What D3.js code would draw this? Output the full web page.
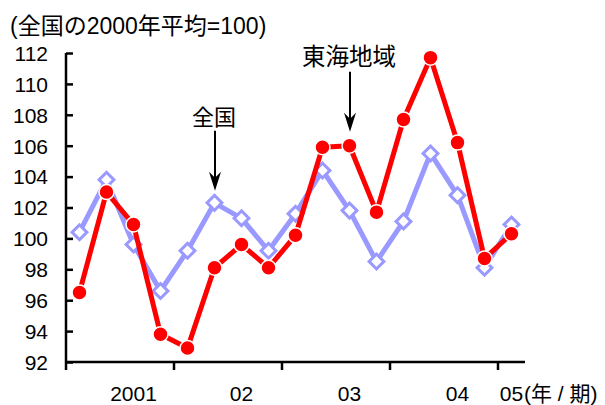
<!DOCTYPE html>
<html>
<head>
<meta charset="utf-8">
<script src="https://cdn.jsdelivr.net/npm/d3@7"></script>
<style>
  html, body { margin: 0; padding: 0; background: #fff; }
  svg { display: block; }
  text { font-family: "Liberation Sans", Arial, "Noto Sans CJK JP", sans-serif; fill: #000; }
</style>
</head>
<body>
<svg id="chart" width="605" height="405"></svg>
<script>
// Quarterly periods, 2001 Q1 – 2005 Q1
const quarters = ["01Q1","01Q2","01Q3","01Q4","02Q1","02Q2","02Q3","02Q4",
                  "03Q1","03Q2","03Q3","03Q4","04Q1","04Q2","04Q3","04Q4","05Q1"];
// Year labels shown under the third quarter of each year (and under 05Q1)
const quarterLabels = ["","","2001","","","","02","","","","03","","","","04","","05"];
// Year boundaries (ticks between Q4 and next Q1)
const yearStarts = ["02Q1","03Q1","04Q1","05Q1"];

// Index (national 2000 average = 100)
const tokaiValues    = [96.5,103.0,100.9,93.8,92.9,98.1,99.6,98.1,100.2,105.9,106.0,101.7,107.7,111.7,106.2,98.7,100.3];
const nationalValues = [100.4,103.8,99.6,96.6,99.2,102.3,101.3,99.2,101.6,104.4,101.8,98.5,101.1,105.5,102.8,98.1,100.9];

const yTicks = [92,94,96,98,100,102,104,106,108,110,112];

const svg = d3.select("#chart");
const plotLeft = 66, plotRight = 525, plotTop = 53, plotBottom = 362;

const x = d3.scaleBand().domain(quarters).range([plotLeft, plotRight]).padding(0);
const y = d3.scaleLinear().domain([92, 112]).range([plotBottom, plotTop]);
const cx = q => x(q) + x.bandwidth() / 2;

// Title
svg.append("text").attr("x", 10).attr("y", 34)
  .style("font-size", "23px").text("(全国の2000年平均=100)");

// Y axis (ticks point inward)
const yAxis = svg.append("g").attr("transform", `translate(${plotLeft},0)`)
  .call(d3.axisRight(y).tickValues(yTicks).tickSize(7).tickFormat(d3.format("d")));
yAxis.select(".domain").attr("stroke", "#000").attr("stroke-width", 2.5)
  .attr("d", `M0,${plotTop}V${plotBottom}`);
yAxis.selectAll(".tick line").attr("stroke", "#000").attr("stroke-width", 2.5);
yAxis.selectAll(".tick text")
  .attr("x", -18).attr("text-anchor", "end").attr("dy", "0.35em")
  .style("font-size", "21px").style("font-family", "Liberation Sans, Arial, sans-serif");

// X axis: baseline with year-boundary ticks
const xg = svg.append("g");
xg.append("line").attr("x1", plotLeft).attr("x2", plotRight).attr("y1", plotBottom).attr("y2", plotBottom)
  .attr("stroke", "#000").attr("stroke-width", 2.5);
xg.selectAll("line.yr").data(yearStarts).join("line").attr("class", "yr")
  .attr("x1", d => x(d)).attr("x2", d => x(d))
  .attr("y1", plotBottom).attr("y2", plotBottom + 8)
  .attr("stroke", "#000").attr("stroke-width", 2.5);
xg.append("line").attr("x1", plotLeft).attr("x2", plotLeft).attr("y1", plotBottom).attr("y2", plotBottom + 8)
  .attr("stroke", "#000").attr("stroke-width", 2.5);
xg.selectAll("text.ql").data(quarters.filter((q, i) => quarterLabels[i]))
  .join("text").attr("class", "ql")
  .attr("x", d => cx(d)).attr("y", 401).attr("text-anchor", "middle")
  .style("font-size", "21px")
  .text(d => quarterLabels[quarters.indexOf(d)]);
svg.append("text").attr("x", 524).attr("y", 401)
  .style("font-size", "21px").style("white-space", "pre").text("(年 / 期)");

// Series
const line = d3.line().x((d, i) => cx(quarters[i])).y(d => y(d));

// National (blue, diamond markers)
svg.append("path").datum(nationalValues).attr("d", line)
  .attr("fill", "none").attr("stroke", "#9999FF").attr("stroke-width", 5)
  .attr("stroke-linejoin", "round");
const diamond = d3.symbol().type(d3.symbolSquare).size(110);
svg.selectAll("path.nat").data(nationalValues).join("path").attr("class", "nat")
  .attr("d", diamond)
  .attr("transform", (d, i) => `translate(${cx(quarters[i])},${y(d)}) rotate(45)`)
  .attr("fill", "#fff").attr("stroke", "#9999FF").attr("stroke-width", 3);

// Tokai region (red, circle markers)
svg.append("path").datum(tokaiValues).attr("d", line)
  .attr("fill", "none").attr("stroke", "#FF0000").attr("stroke-width", 5)
  .attr("stroke-linejoin", "round");
svg.selectAll("circle.tok").data(tokaiValues).join("circle").attr("class", "tok")
  .attr("cx", (d, i) => cx(quarters[i])).attr("cy", d => y(d)).attr("r", 7.5)
  .attr("fill", "#FF0000").attr("stroke", "#fff").attr("stroke-width", 1.5);

// Callouts with arrows
const callouts = [
  { label: "全国", q: "02Q2", value: nationalValues[5], textY: 125, tipGap: 12, len: 60, size: 22 },
  { label: "東海地域", q: "03Q3", value: tokaiValues[10], textY: 65, tipGap: 14, len: 60, size: 23.5 }
];
callouts.forEach(c => {
  const ax = cx(c.q) + 0.5;
  const tip = y(c.value) - c.tipGap;
  svg.append("line").attr("x1", ax).attr("x2", ax)
    .attr("y1", tip - c.len).attr("y2", tip - 10)
    .attr("stroke", "#000").attr("stroke-width", 2);
  svg.append("path")
    .attr("d", `M${ax - 6},${tip - 19}L${ax},${tip}L${ax + 6},${tip - 19}L${ax},${tip - 13}Z`)
    .attr("fill", "#000");
  svg.append("text").attr("x", ax - 1).attr("y", c.textY).attr("text-anchor", "middle")
    .style("font-size", c.size + "px").text(c.label);
});
</script>
</body>
</html>
